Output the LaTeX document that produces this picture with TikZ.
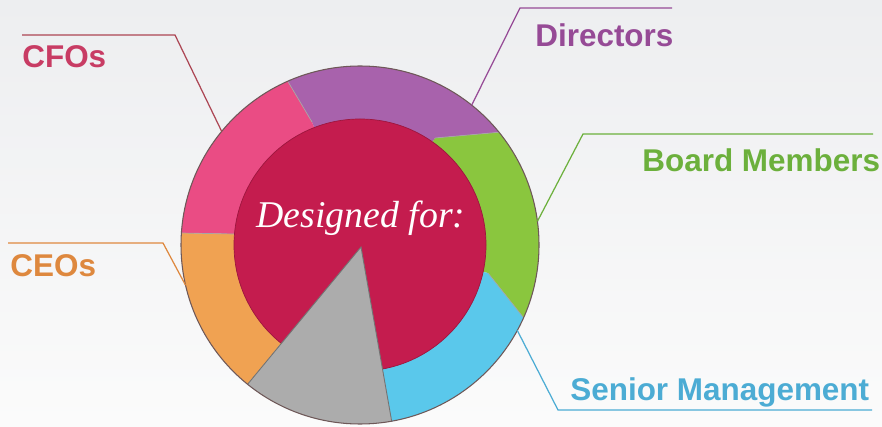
\documentclass[tikz,border=0pt]{standalone}
\usepackage{fontspec}
\setmainfont{Liberation Serif}
\setsansfont{Liberation Sans}
\usetikzlibrary{calc}

\definecolor{bgtop}{RGB}{237,238,240}
\definecolor{bgbot}{RGB}{251,251,251}
\definecolor{pinkseg}{RGB}{234,76,132}
\definecolor{purpleseg}{RGB}{168,98,172}
\definecolor{greenseg}{RGB}{138,198,62}
\definecolor{cyanseg}{RGB}{90,200,235}
\definecolor{orangeseg}{RGB}{240,162,82}
\definecolor{grayseg}{RGB}{172,172,172}
\definecolor{core}{RGB}{196,28,78}
\definecolor{rimcol}{RGB}{110,88,88}
\definecolor{cfotext}{RGB}{200,60,100}
\definecolor{cfoline}{RGB}{172,70,84}
\definecolor{dirtext}{RGB}{150,74,150}
\definecolor{boardtext}{RGB}{108,176,60}
\definecolor{ceotext}{RGB}{222,136,62}
\definecolor{semtext}{RGB}{76,172,212}

\begin{document}
\begin{tikzpicture}
  [x=0.02cm,y=0.02cm,
   audience/.style={font=\sffamily\bfseries\fontsize{17.9}{20}\selectfont,inner sep=0pt,anchor=base west},
   leader/.style={line width=0.7pt},
   seam/.style={draw=black!35,line width=0.4pt}]
  \shade[top color=bgtop,bottom color=bgbot] (0,0) rectangle (882,426);

  \coordinate (C) at (360,181);
  % segment borders, inner end / outer end
  \coordinate (gc-in) at (488,153); \coordinate (gc-out) at (523,109);
  \coordinate (pg-in) at (435,288); \coordinate (pg-out) at (502,294);
  \coordinate (kp-in) at (312,304); \coordinate (kp-out) at (290,341);
  \coordinate (ok-in) at (235,192); \coordinate (ok-out) at (180,193);
  \coordinate (tip) at (361,179);
  \coordinate (gl) at (247,41);
  \coordinate (gr) at (392,3);

  % ring
  \begin{scope}
    \clip (C) circle (179);
    \fill[greenseg] (C) -- (gc-in) -- ($(gc-in)!4!(gc-out)$) -- ($(pg-in)!4!(pg-out)$) -- (pg-in) -- cycle;
    \fill[purpleseg] (C) -- (pg-in) -- ($(pg-in)!4!(pg-out)$) -- ($(kp-in)!4!(kp-out)$) -- (kp-in) -- cycle;
    \fill[pinkseg] (C) -- (kp-in) -- ($(kp-in)!4!(kp-out)$) -- ($(ok-in)!4!(ok-out)$) -- (ok-in) -- cycle;
    \fill[orangeseg] (C) -- (ok-in) -- ($(ok-in)!4!(ok-out)$) -- ($(tip)!1.5!(gl)$) -- (tip) -- cycle;
    \fill[cyanseg] (tip) -- ($(tip)!1.5!(gr)$) -- ($(gc-in)!4!(gc-out)$) -- (gc-in) -- cycle;
    \foreach \b in {gc,pg,kp,ok}
      \draw[seam] (\b-in) -- ($(\b-in)!2!(\b-out)$);
  \end{scope}

  \fill[core,draw=core!80!black,line width=0.4pt] (C) circle (126);
  \node[font=\itshape\fontsize{21.5}{24}\selectfont,text=white,anchor=base] (title) at (361,198) {Designed for:};

  \begin{scope}
    \clip (C) circle (179);
    \fill[grayseg,draw=black!55,line width=0.5pt] (tip) -- ($(tip)!1.5!(gl)$) -- ($(tip)!1.5!(gr)$) -- cycle;
  \end{scope}
  \draw[rimcol,line width=0.6pt] (C) circle (179);

  % labels
  \node[audience,text=cfotext] (cfo) at (22,358) {CFOs};
  \node[audience,text=dirtext] (dir) at (535,379) {Directors};
  \node[audience,text=boardtext] (board) at (642,254) {Board Members};
  \node[audience,text=ceotext] (ceo) at (10,149) {CEOs};
  \node[audience,text=semtext] (sem) at (570,26) {Senior Management};

  % leader lines
  \coordinate (cfo-a) at (22,391);  \coordinate (cfo-b) at (175,391);
  \coordinate (cfo-c) at ($(C)+(140.6:179)$);
  \coordinate (dir-a) at (672,418); \coordinate (dir-b) at (520,418);
  \coordinate (dir-c) at ($(C)+(51.4:179)$);
  \coordinate (board-a) at (873,292); \coordinate (board-b) at (583,292);
  \coordinate (board-c) at ($(C)+(7.6:179)$);
  \coordinate (ceo-a) at (8,183);   \coordinate (ceo-b) at (163,183);
  \coordinate (ceo-c) at ($(C)+(193:179)$);
  \coordinate (sem-a) at (872,16);  \coordinate (sem-b) at (558,16);
  \coordinate (sem-c) at ($(C)+(-28.5:179)$);
  \foreach \who/\col in {cfo/cfoline,dir/dirtext,board/boardtext,ceo/ceotext,sem/semtext}
    \draw[leader,\col] (\who-a) -- (\who-b) -- (\who-c);
\end{tikzpicture}
\end{document}
